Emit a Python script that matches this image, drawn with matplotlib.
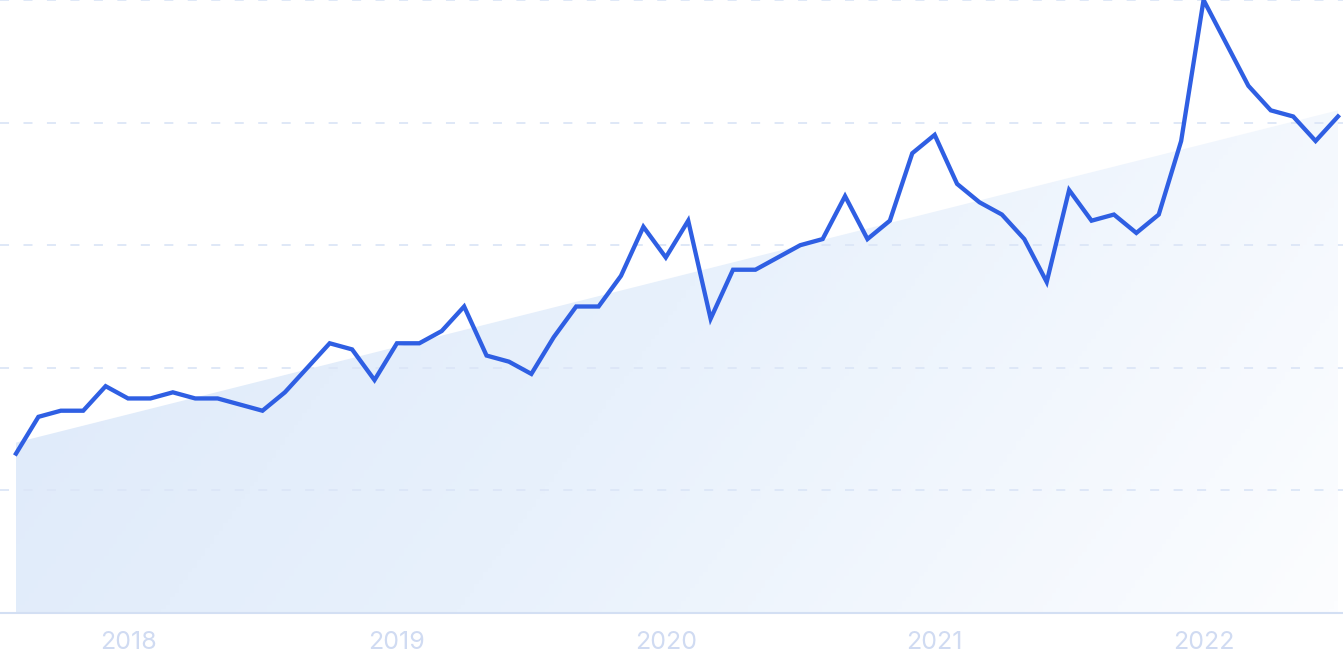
import numpy as np
import matplotlib.pyplot as plt
from matplotlib.patches import Polygon
from matplotlib.colors import LinearSegmentedColormap

# monthly interest, Aug 2017 .. Jul 2022
values = [26, 32, 33, 33, 37, 35, 35, 36, 35, 35, 34, 33,
          36, 40, 44, 43, 38, 44, 44, 46, 50, 42, 41, 39,
          45, 50, 50, 55, 63, 58, 64, 48, 56, 56, 58, 60,
          61, 68, 61, 64, 75, 78, 70, 67, 65, 61, 54, 69,
          64, 65, 62, 65, 77, 100, 93, 86, 82, 81, 77, 81]
trend_start, trend_end = 27.8, 82.0     # trend line
year_labels = ['2018', '2019', '2020', '2021', '2022']
year_index = [5, 17, 29, 41, 53]        # January of each year
grid_vals = [0, 20, 40, 60, 80, 100]

x = np.arange(len(values))
trend = np.linspace(trend_start, trend_end, len(values))

fig = plt.figure(figsize=(13.43, 6.71), dpi=100)
ax = fig.add_axes([0, 58/671, 1, 613/671])
step = 1322/59
ax.set_xlim(-16/step, 59 + 5/step)
ax.set_ylim(0, 100)

# gradient fill under the trend line
cmap = LinearSegmentedColormap.from_list('g', ['#dce8f9', '#e8f1fc', '#fcfdff'])
gx, gy = np.meshgrid(np.linspace(0, 1, 300), np.linspace(0, 1, 150))
grad = 0.75*gx + 0.25*gy
im = ax.imshow(grad, cmap=cmap, extent=[0, 59, 0, 100], origin='upper',
               aspect='auto', zorder=1)
poly = Polygon(np.column_stack([np.r_[x, x[::-1]], np.r_[trend, np.zeros_like(trend)]]),
               closed=True, transform=ax.transData, facecolor='none', edgecolor='none')
ax.add_patch(poly)
im.set_clip_path(poly)

for g in grid_vals[1:]:
    ax.axhline(g, color='#dce6f7', lw=1.3, ls=(0, (5, 8)), zorder=2, clip_on=False)
ax.axhline(0, color='#d3dff3', lw=1.5, zorder=2, clip_on=False)

ax.plot(x, values, color='#2f5fe3', lw=3.1, zorder=3, clip_on=False,
        solid_joinstyle='miter')

for lab, i in zip(year_labels, year_index):
    ax.text(i, -4.8, lab, ha='center', va='center', fontsize=18,
            family='Inter', color='#d0dbf2')

for s in ax.spines.values():
    s.set_visible(False)
ax.set_xticks([]); ax.set_yticks([])

fig.savefig('out.png', dpi=100)
